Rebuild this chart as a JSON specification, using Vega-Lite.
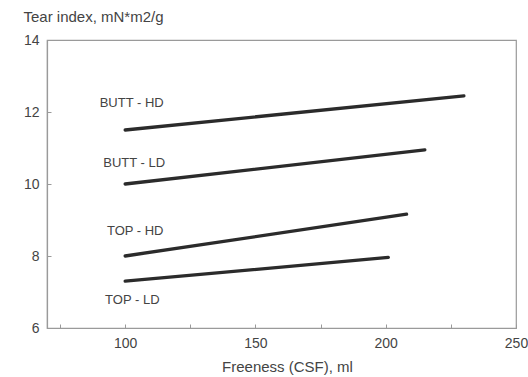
{
  "$schema": "https://vega.github.io/schema/vega-lite/v6.json",
  "width": 469,
  "height": 288,
  "autosize": {"type": "none"},
  "padding": {"left": 47, "top": 40, "right": 12, "bottom": 49},
  "background": "white",
  "config": {
    "view": {"stroke": "#9a9a9a", "strokeWidth": 1.2},
    "font": "Liberation Sans",
    "axis": {
      "grid": false,
      "domainColor": "#9a9a9a",
      "domainWidth": 1.2,
      "tickColor": "#9a9a9a",
      "labelColor": "#444444",
      "titleColor": "#444444",
      "labelFont": "Liberation Sans",
      "titleFont": "Liberation Sans",
      "labelFontSize": 14,
      "titleFontSize": 15,
      "titleFontWeight": "normal",
      "labelFlush": false,
      "labelOverlap": false
    }
  },
  "datasets": {
    "lines": [
      {"series": "BUTT - HD", "freeness": 100, "tear": 11.5},
      {"series": "BUTT - HD", "freeness": 230, "tear": 12.45},
      {"series": "BUTT - LD", "freeness": 100, "tear": 10.0},
      {"series": "BUTT - LD", "freeness": 215, "tear": 10.95},
      {"series": "TOP - HD", "freeness": 100, "tear": 8.0},
      {"series": "TOP - HD", "freeness": 208, "tear": 9.16},
      {"series": "TOP - LD", "freeness": 100, "tear": 7.3},
      {"series": "TOP - LD", "freeness": 201, "tear": 7.96}
    ],
    "labels": [
      {"series": "BUTT - HD", "freeness": 90.2, "tear": 12.15},
      {"series": "BUTT - LD", "freeness": 91.6, "tear": 10.46},
      {"series": "TOP - HD", "freeness": 93, "tear": 8.57},
      {"series": "TOP - LD", "freeness": 92.3, "tear": 6.68}
    ]
  },
  "layer": [
    {
      "data": {"name": "lines"},
      "mark": {"type": "line", "color": "#2b2b2b", "strokeWidth": 3.3, "strokeCap": "round"},
      "encoding": {
        "x": {
          "field": "freeness",
          "type": "quantitative",
          "scale": {"domain": [70, 250], "nice": false, "zero": false},
          "axis": {
            "values": [75, 100, 125, 150, 175, 200, 225, 250],
            "labelExpr": "datum.value % 50 == 0 ? datum.label : ''",
            "tickSize": -4,
            "labelPadding": 12,
            "title": "Freeness (CSF), ml",
            "titleX": 240,
            "titleY": 43,
            "titleAlign": "center",
            "titleBaseline": "alphabetic"
          }
        },
        "y": {
          "field": "tear",
          "type": "quantitative",
          "scale": {"domain": [6, 14], "nice": false, "zero": false},
          "axis": {
            "values": [6, 7, 8, 9, 10, 11, 12, 13, 14],
            "labelExpr": "datum.value % 2 == 0 ? datum.label : ''",
            "tickSize": -4,
            "labelPadding": 12,
            "title": "Tear index, mN*m2/g",
            "titleAngle": 0,
            "titleAlign": "left",
            "titleBaseline": "alphabetic",
            "titleX": -24,
            "titleY": -19
          }
        },
        "detail": {"field": "series"}
      }
    },
    {
      "data": {"name": "labels"},
      "mark": {"type": "text", "align": "left", "baseline": "alphabetic", "fontSize": 13, "color": "#444444", "font": "Liberation Sans"},
      "encoding": {
        "x": {"field": "freeness", "type": "quantitative"},
        "y": {"field": "tear", "type": "quantitative"},
        "text": {"field": "series"}
      }
    }
  ]
}
